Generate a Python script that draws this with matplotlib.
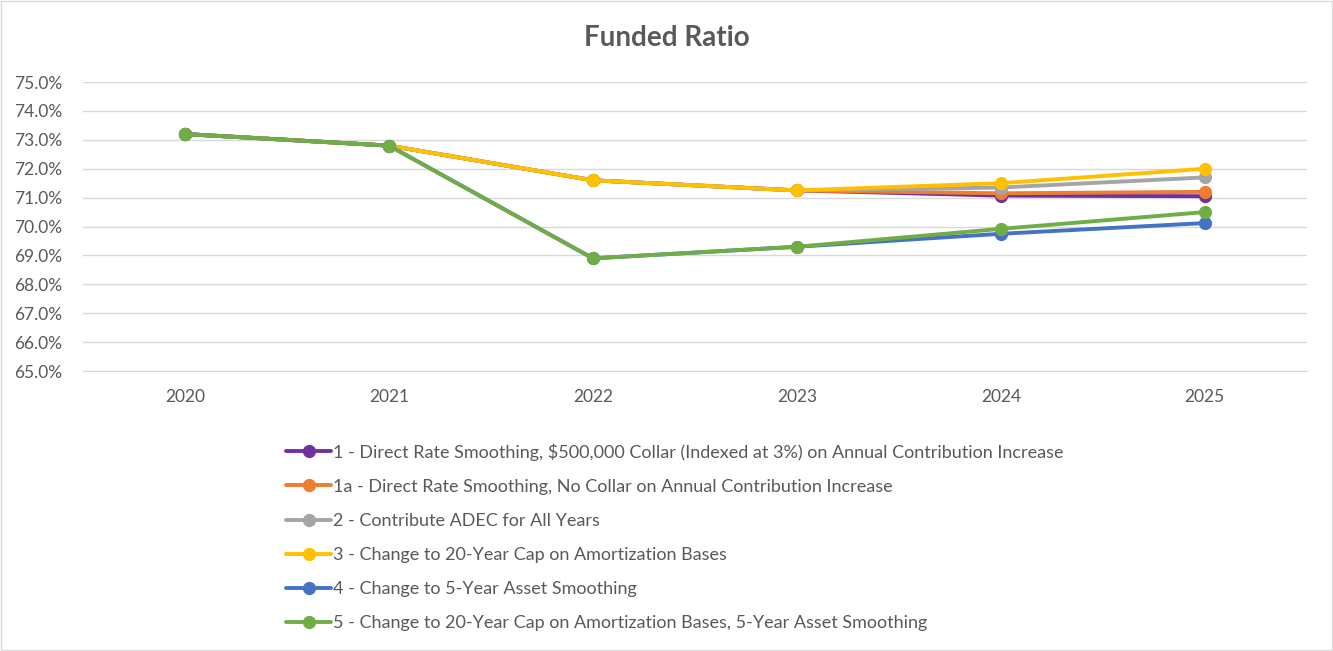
import matplotlib.pyplot as plt
from matplotlib.patches import Rectangle

plt.rcParams['font.family'] = ['Lato', 'DejaVu Sans']

years = ['2020', '2021', '2022', '2023', '2024', '2025']

labels = [
    '1 - Direct Rate Smoothing, $500,000 Collar (Indexed at 3%) on Annual Contribution Increase',
    '1a - Direct Rate Smoothing, No Collar on Annual Contribution Increase',
    '2 - Contribute ADEC for All Years',
    '3 - Change to 20-Year Cap on Amortization Bases',
    '4 - Change to 5-Year Asset Smoothing',
    '5 - Change to 20-Year Cap on Amortization Bases, 5-Year Asset Smoothing',
]
s1 = [73.2, 72.8, 71.6, 71.25, 71.07, 71.05]
s1a = [73.2, 72.8, 71.6, 71.25, 71.15, 71.2]
s2 = [73.2, 72.8, 71.6, 71.25, 71.35, 71.7]
s3 = [73.2, 72.8, 71.6, 71.25, 71.5, 72.0]
s4 = [73.2, 72.8, 68.9, 69.3, 69.75, 70.12]
s5 = [73.2, 72.8, 68.9, 69.3, 69.92, 70.5]
colors = ['#7030A0', '#ED7D31', '#A5A5A5', '#FFC000', '#4472C4', '#70AD47']

fig = plt.figure(figsize=(13.33, 6.51), dpi=100)
ax = fig.add_axes([0.0623, 0.430, 0.918, 0.444])

x = list(range(len(years)))
for vals, lab, c in zip([s1, s1a, s2, s3, s4, s5], labels, colors):
    ax.plot(x, vals, color=c, lw=2.8, marker='o', ms=8.5, label=lab,
            solid_capstyle='round')

ax.set_xlim(-0.5, 5.5)
ax.set_ylim(65, 75)
ax.set_yticks(range(65, 76))
ax.set_yticklabels([f'{v:.1f}%' for v in range(65, 76)])
ax.set_xticks(x)
ax.set_xticklabels(years)
ax.grid(axis='y', color='#D9D9D9', lw=1)
ax.set_axisbelow(True)
for sp in ['top', 'right', 'left']:
    ax.spines[sp].set_visible(False)
ax.spines['bottom'].set_color('#D9D9D9')
ax.tick_params(axis='both', length=0, labelsize=12.5, colors='#595959')
ax.tick_params(axis='x', pad=13)
ax.tick_params(axis='y', pad=15)

fig.text(0.5, 0.942, 'Funded Ratio', ha='center', va='center',
         fontsize=20, fontweight='bold', color='#595959')

fig.legend(loc='upper left', bbox_to_anchor=(0.208, 0.333), frameon=False,
           fontsize=13, labelspacing=1.0, handlelength=2.5, handletextpad=0.1,
           labelcolor='#595959', borderpad=0)

fig.patches.append(Rectangle((0.001, 0.002), 0.998, 0.996, transform=fig.transFigure,
                             fill=False, edgecolor='#D9D9D9', lw=1))

fig.savefig('out.png', dpi=100)
